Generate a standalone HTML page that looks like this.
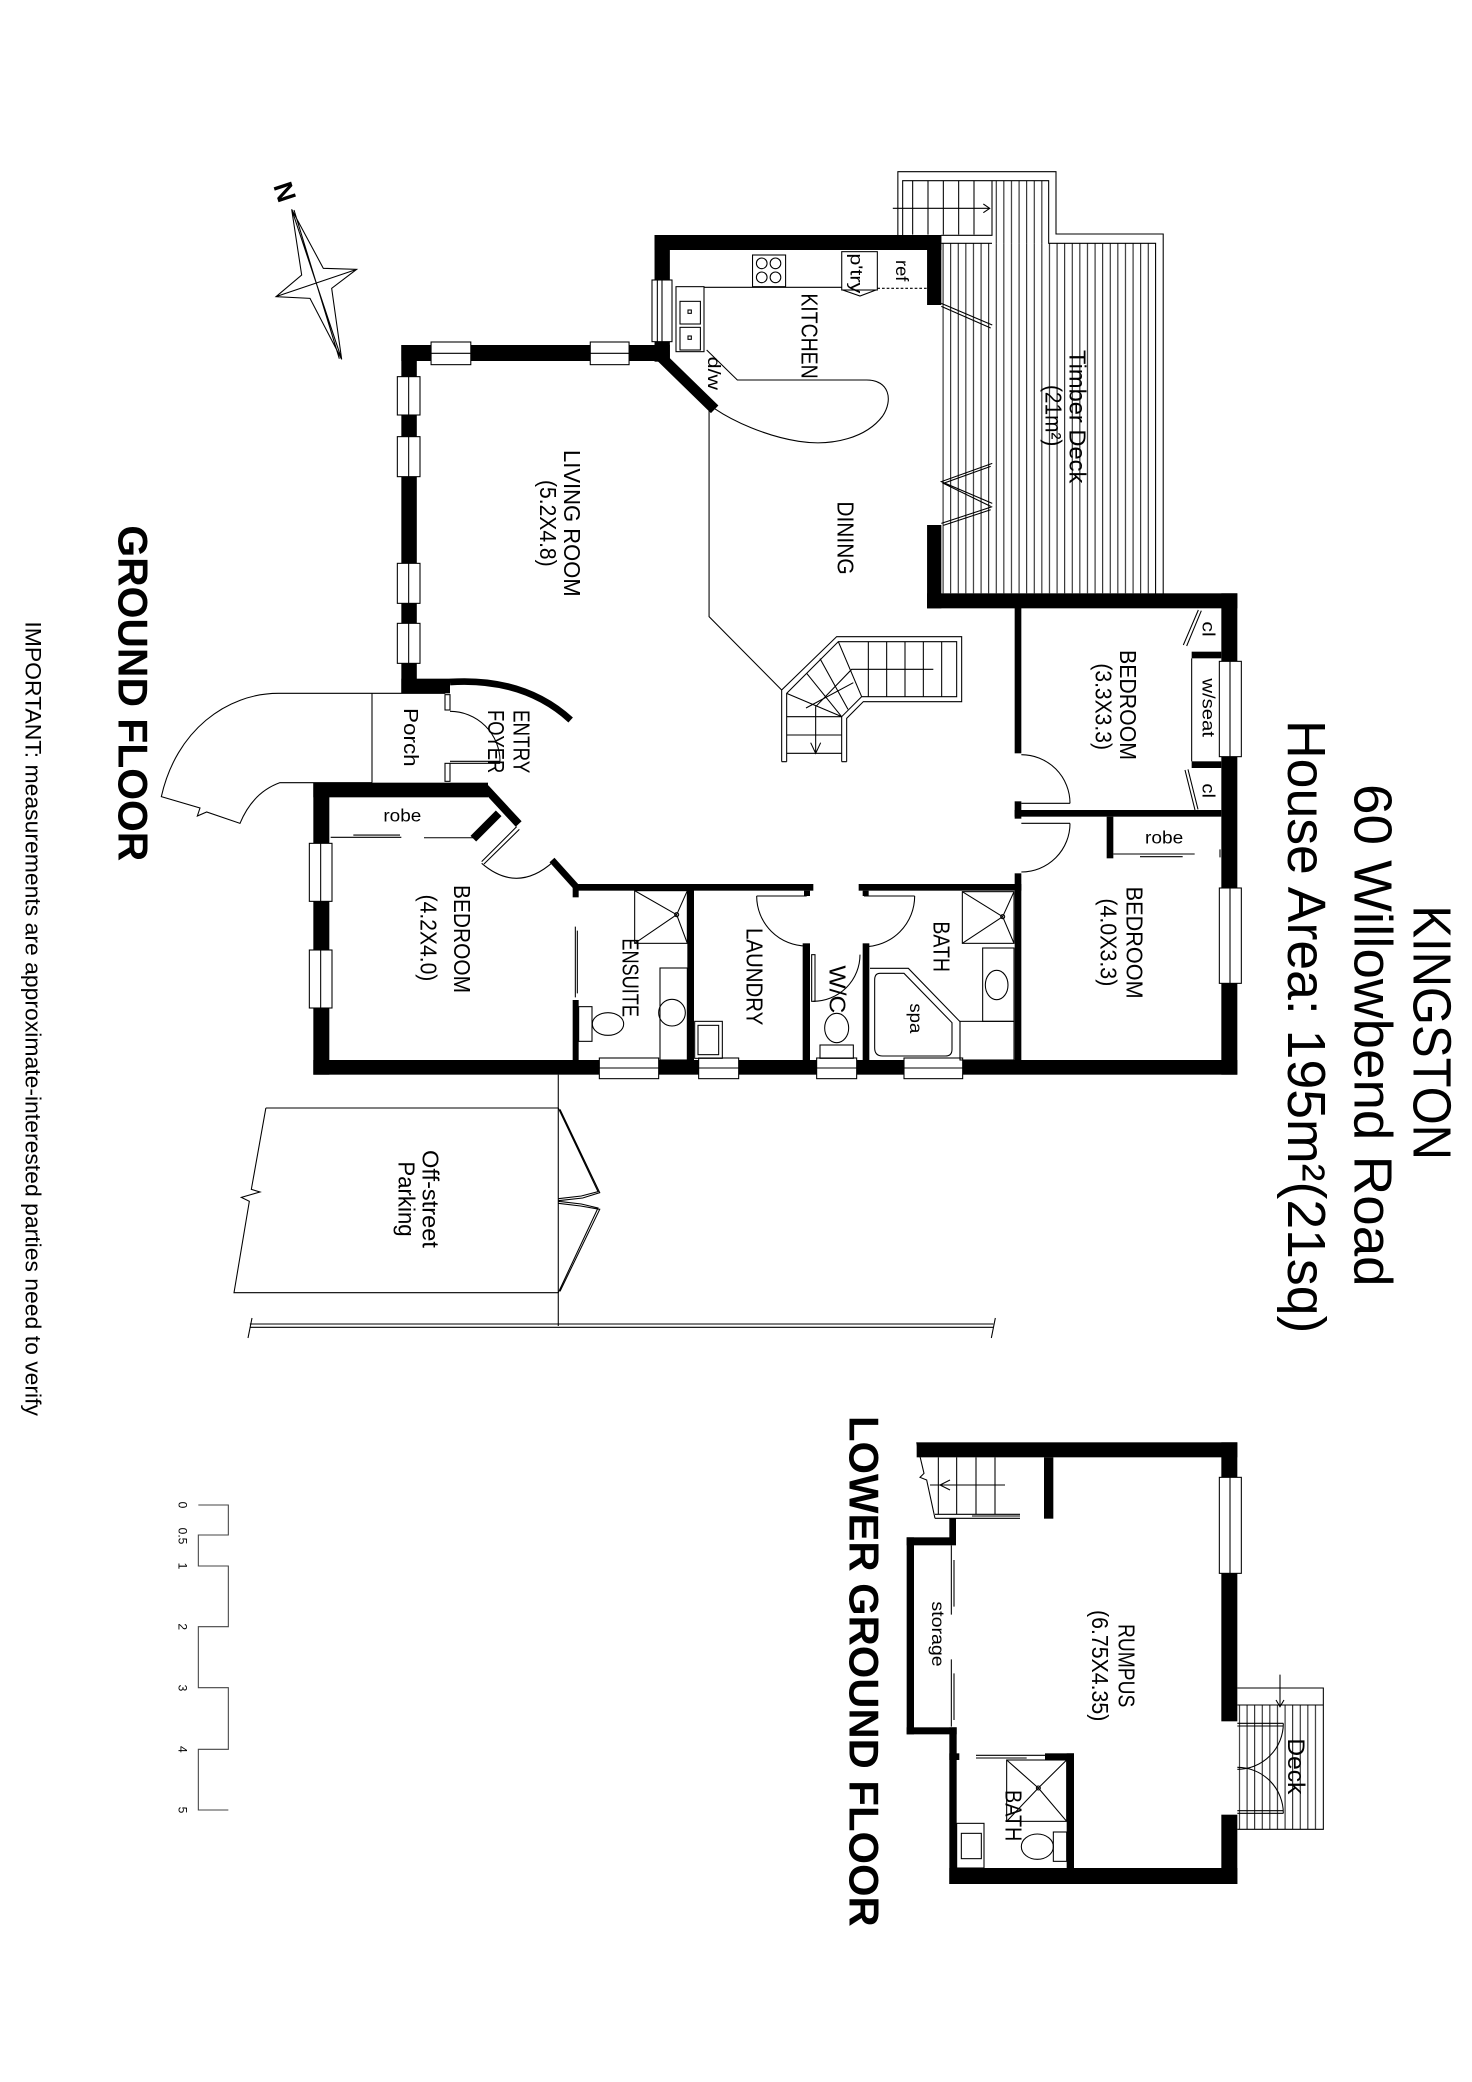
<!DOCTYPE html>
<html><head><meta charset="utf-8"><style>
html,body{margin:0;padding:0;background:#fff}
svg{display:block}
text{font-family:"Liberation Sans",sans-serif;fill:#000}
.l{fill:none;stroke:#000;stroke-width:0.8}
.w{fill:#fff;stroke:#000;stroke-width:0.8}
</style></head><body>
<svg xmlns="http://www.w3.org/2000/svg" width="1472" height="2082" viewBox="0 0 1104 1561.5" preserveAspectRatio="none">
<defs>
<pattern id="vh" patternUnits="userSpaceOnUse" width="5.7" height="20"><line x1="0.5" y1="0" x2="0.5" y2="20" stroke="#000" stroke-width="0.7"/></pattern>
</defs>
<rect x="0" y="0" width="1104" height="1561.5" fill="#fff"/>

<!-- ============ DECK (ground) ============ -->
<rect x="706" y="182.5" width="160.7" height="262.5" fill="url(#vh)"/>
<rect x="744" y="135.5" width="42.5" height="47" fill="url(#vh)"/>
<path class="l" d="M673.4,176.25 V128.75 H792 V175.5 H872.4 V446 M677,176.25 V135.5 H786.5 V182.5 H866.7 V446 M706,176.5 H744 V135.5 M706,182.5 H744"/>
<path class="l" d="M684.5,135.5 V176 M696,135.5 V176 M707.5,135.5 V176 M719,135.5 V176 M730.5,135.5 V176"/>
<path class="l" d="M669.6,156.25 H742.3 M737.5,153 L742.3,156.25 L737.5,159.5"/>
<path class="l" d="M706,227.5 L744.2,243.75 M706,229.8 L743,246 M744.2,347.5 L706,361.25 L744.2,377.5 M743,349.8 L707.5,362.5 L743,379.8 M744.2,380 L706,392.5 M743,382.3 L707.5,394"/>

<!-- ============ WALLS (ground) ============ -->
<g fill="#000">
<rect x="301" y="258.75" width="11.6" height="261.25"/>
<rect x="301" y="258.75" width="201.4" height="12"/>
<rect x="490.9" y="176.25" width="11.5" height="95"/>
<rect x="490.9" y="176.25" width="215.1" height="11.25"/>
<rect x="695.3" y="176.25" width="10.7" height="52.5"/>
<rect x="695.3" y="393.75" width="10.7" height="62.5"/>
<rect x="695.3" y="445" width="232.7" height="11.25"/>
<rect x="916" y="445" width="12" height="361"/>
<rect x="235" y="795" width="693" height="11"/>
<rect x="235" y="587" width="12" height="219"/>
<rect x="235" y="587" width="131" height="11"/>
<rect x="301" y="509" width="36.5" height="11"/>
<rect x="430" y="663" width="180" height="5"/>
<rect x="644" y="663" width="122" height="5"/>
<rect x="429.5" y="663" width="4.5" height="10"/>
<rect x="429.5" y="750" width="4.5" height="45"/>
<rect x="515.5" y="663" width="5" height="132"/>
<rect x="602" y="707.5" width="5.5" height="87.5"/>
<rect x="603" y="668" width="4.5" height="4"/>
<rect x="647" y="707.5" width="5" height="87.5"/>
<rect x="647" y="668" width="4.5" height="4"/>
<rect x="761" y="655" width="5" height="140"/>
<rect x="761" y="456" width="5" height="109"/>
<rect x="761" y="601" width="5" height="13"/>
<rect x="761" y="607.5" width="155" height="5"/>
<rect x="830" y="612.5" width="5" height="31.25"/>
<rect x="893.75" y="488.75" width="22.25" height="5"/>
<rect x="893.75" y="571" width="22.25" height="5"/>
</g>
<g stroke="#000" fill="none">
<line x1="494" y1="266" x2="536" y2="307" stroke-width="8"/>
<line x1="364" y1="591" x2="389" y2="618" stroke-width="6"/>
<line x1="355" y1="629" x2="374" y2="610" stroke-width="6"/>
<line x1="414" y1="645" x2="432" y2="665" stroke-width="5"/>
<path d="M337.5,511.5 Q393,508 428,540" stroke-width="5"/>
</g>

<!-- windows -->
<g class="w">
<rect x="298" y="282.5" width="17" height="28.75"/>
<rect x="298" y="327.5" width="17" height="30"/>
<rect x="298" y="422.5" width="17" height="30"/>
<rect x="298" y="467.5" width="17" height="30"/>
<rect x="489" y="210" width="15" height="46.25"/>
<rect x="323.3" y="256.5" width="29.8" height="17"/>
<rect x="442.7" y="256.5" width="29.1" height="17"/>
<rect x="232" y="632.5" width="17" height="43.5"/>
<rect x="232" y="712.5" width="17" height="43.5"/>
<rect x="449.5" y="793.5" width="44.5" height="15.5"/>
<rect x="524" y="793.5" width="30" height="15.5"/>
<rect x="612.5" y="793.5" width="30" height="15.5"/>
<rect x="678" y="793.5" width="44" height="15.5"/>
<rect x="914.5" y="496" width="16.5" height="71.5"/>
<rect x="914.5" y="666" width="16.5" height="71.5"/>
<rect x="333.75" y="521" width="3.75" height="11.5"/>
<rect x="333.75" y="572.5" width="3.75" height="13.5"/>
</g>
<path class="l" d="M306.5,282.5 V311.25 M306.5,327.5 V357.5 M306.5,422.5 V452.5 M306.5,467.5 V497.5 M496.5,210 V256.25 M493,210 V256.25 M323.3,265 H353.1 M442.7,265 H471.8 M240.5,632.5 V676 M240.5,712.5 V756 M449.5,801 H494 M524,801 H554 M612.5,801 H642.5 M678,801 H722 M922.5,496 V567.5 M922.5,666 V737.5"/>

<!-- kitchen fixtures -->
<path class="l" d="M528,215.5 H631.3"/>
<rect class="l" x="507" y="215" width="21" height="48.75"/>
<rect class="l" x="510" y="226" width="15.3" height="17"/>
<rect class="l" x="510" y="245.5" width="15.3" height="17"/>
<rect class="l" x="516" y="232.5" width="2.5" height="2.5"/>
<rect class="l" x="516" y="252" width="2.5" height="2.5"/>
<rect class="l" x="564.4" y="191.25" width="24.8" height="23.75"/>
<circle class="l" cx="571.3" cy="197.5" r="4"/>
<circle class="l" cx="581.6" cy="197.5" r="4"/>
<circle class="l" cx="571.3" cy="208" r="4"/>
<circle class="l" cx="581.6" cy="208" r="4"/>
<rect class="l" x="631.3" y="188.75" width="26.7" height="28.75"/>
<path class="l" d="M632,217.5 L645,222 L657,217.5"/>
<path d="M658,216.25 H695.3" stroke="#000" stroke-width="0.8" stroke-dasharray="2,1.5"/>
<path class="l" d="M530,262.5 L553,285 L650,285 C667,285 670,300 662,312 C650,328 625,335 599,331 C574,327 550,316 536,306.5"/>
<path class="l" d="M531.8,306 V462.5 L586.25,517.5"/>

<!-- stairs ground -->
<path class="l" d="M586.25,571.25 V517.5 L627.5,477.5 H721.25 V526.25 H647.5 L635,538.75 V571.25 M590,571.25 V520 L628.75,481.25 H717.5 V522.5 H646.25 L631.25,537.5 V571.25 M586.25,571.25 H590 M631.25,571.25 H635"/>
<path class="l" d="M651.25,481.25 V522.5 M665,481.25 V522.5 M678.75,481.25 V522.5 M692.5,481.25 V522.5 M706.25,481.25 V522.5 M590,537.5 H631.25 M590,551.25 H631.25 M590,565 H631.25 M628.75,481.25 L646.25,522.5 M590,520 L631.25,537.5 M605,505 L631.25,537.5 M615,494 L636,532 M604.5,531 L640,512"/>
<path class="l" d="M700,502 H638.75 L611.75,530 V565 M608,557 L611.75,565 L615.5,557"/>

<!-- porch & path -->
<path class="l" d="M279,520 L208.75,520 C170,520 132,548 121,597.5 L150,606 L148,612 L155,609 L180,617.5 C186,603 196,592 210,587 L279,587 M279,520 V587 M279,520 H334"/>
<!-- entry door -->
<path class="l" d="M337.5,571 H375 M337.5,572.5 H375 M375,571 A37.5,37.5 0 0 0 337.5,533.5"/>

<!-- bedroom 4.2 robe & door -->
<path class="l" d="M248,628 H301 M265,626.3 H300 M318,628.3 H355 M387.5,620 L361.25,646.25 M389.5,622 L363,648 M361.25,647.5 Q388,670.5 415,646.25"/>

<!-- right bedroom doors, closets, robe -->
<path class="l" d="M766,602.5 H802.5 M802.5,602.5 A36.5,36.5 0 0 0 766,566 M766,617.5 H802.5 M802.5,617.5 A36.5,36.5 0 0 1 766,654"/>
<path class="l" d="M898.75,457.5 L887.5,483.75 M901,458 L890,484.5 M888.75,577.5 L896.25,607.5 M891,577 L898.5,607 M893.75,493.75 V571 M835,640.5 H896 M855,642.5 H887 M915,637 V643"/>

<!-- wet areas -->
<path class="l" d="M605,672 H567.5 M567.5,672 A37.5,37.5 0 0 0 605,709.5 M648,672 H686 M686,672 A38,38 0 0 1 648,710 M610,751 A35,35 0 0 0 645,716 M431.5,695 V748 M433,698 V745"/>
<rect class="l" x="608.75" y="716" width="2.5" height="35"/>
<rect class="l" x="476" y="668" width="39.5" height="39.5"/>
<path class="l" d="M476,668 L507.5,686 M476,707.5 L507.5,686 M515.5,668 L507.5,686 M515.5,707.5 L507.5,686"/>
<circle class="l" cx="507.5" cy="686" r="1.5"/>
<rect class="l" x="495" y="726" width="20.5" height="69"/>
<circle class="l" cx="504" cy="759.5" r="10"/>
<rect class="l" x="434" y="755" width="10" height="26"/>
<ellipse class="l" cx="456" cy="768" rx="11.75" ry="8.5"/>
<rect class="l" x="521" y="766" width="20.75" height="27.75"/>
<rect class="l" x="523.5" y="769" width="15.5" height="22"/>
<rect class="l" x="615" y="783.75" width="25" height="10"/>
<ellipse class="l" cx="627.5" cy="771" rx="9" ry="11"/>
<rect class="l" x="721.75" y="668.75" width="38.75" height="38.75"/>
<path class="l" d="M721.75,668.75 L752,687.5 M721.75,707.5 L752,687.5 M760.5,668.75 L752,687.5 M760.5,707.5 L752,687.5"/>
<circle class="l" cx="752" cy="687.5" r="1.5"/>
<path class="l" d="M652.5,726.25 H681.25 L720,766.25 V795 M660,730 H678 L714,767 V787 Q714,792 709,792 H662 Q656,792 656,786 V735 Q656,730 660,730 Z"/>
<rect class="l" x="737" y="711" width="23.5" height="55"/>
<ellipse class="l" cx="747.5" cy="738.75" rx="8.5" ry="11"/>
<rect class="l" x="720" y="766" width="40.5" height="29"/>

<!-- parking -->
<path class="l" d="M418.7,806 V994.5 M199.4,831 H418.7 M418.7,969.5 H175.5 L187,901 L181,898 L195,894 L188.5,892 L199.4,831"/>
<path class="l" d="M418.7,831 L448.5,893.75 L436,897 L418.7,899 M420,832 L449.8,894.5 L437,898.5 L418.7,900.5 M418.7,901 L436,903 L448.5,906 L418.7,969.5 M418.7,902.5 L435.5,904.5 L449.8,907 L420,968.5"/>
<path class="l" d="M187.4,993 H745 M187.4,995.5 H745 M189,988.5 L186,1003.5 M746.5,988.5 L743.5,1003.5"/>

<!-- compass -->
<path class="l" d="M218.75,157 L242.5,201.25 L267.5,202 L248.75,216.25 L256.25,269.5 L232.5,223.75 L207,222.5 L226.25,206.25 Z M218.75,157 L256.25,269.5 M220.5,157.5 L254.5,269 M207,222.5 L267.5,202"/>
<text transform="translate(213.5,144) rotate(72)" text-anchor="middle" dominant-baseline="central" font-size="20" font-weight="bold">N</text>

<!-- scale bar -->
<path d="M148.75,1128.75 H171.25 V1151.25 H148.75 V1174.5 H171.25 V1220 H148.75 V1265.75 H171.25 V1312 H148.75 V1357.5 H171.25" fill="none" stroke="#444" stroke-width="0.8"/>
<g font-size="9" text-anchor="middle">
<text transform="translate(134,1128.75) rotate(90)">0</text>
<text transform="translate(134,1152) rotate(90)">0.5</text>
<text transform="translate(134,1174.5) rotate(90)">1</text>
<text transform="translate(134,1220) rotate(90)">2</text>
<text transform="translate(134,1266) rotate(90)">3</text>
<text transform="translate(134,1312) rotate(90)">4</text>
<text transform="translate(134,1357.5) rotate(90)">5</text>
</g>

<!-- ============ LOWER GROUND ============ -->
<rect x="929" y="1278.75" width="61" height="93.25" fill="url(#vh)"/>
<path class="l" d="M928,1266 H992.5 V1372 H928 M928,1278.75 H992.5 M960,1256 V1280 M957,1275 L960,1280 L963,1275"/>
<g fill="#000">
<rect x="687.5" y="1081.75" width="240.5" height="11.25"/>
<rect x="916" y="1081.75" width="12" height="209.25"/>
<rect x="916" y="1361" width="12" height="52"/>
<rect x="712" y="1401" width="216" height="12"/>
<rect x="712" y="1295.5" width="5.5" height="117.5"/>
<rect x="680" y="1153" width="5.5" height="147.75"/>
<rect x="680" y="1153" width="37" height="6"/>
<rect x="680" y="1295.5" width="37.5" height="5.25"/>
<rect x="712" y="1138.75" width="5" height="20"/>
<rect x="783" y="1093" width="7" height="46"/>
<rect x="783.75" y="1315" width="21.75" height="5"/>
<rect x="800" y="1315" width="5.5" height="86"/>
<rect x="712" y="1315" width="7.5" height="5"/>
</g>
<rect class="w" x="914.5" y="1108" width="16.5" height="72"/>
<path class="l" d="M922.5,1108 V1180"/>
<path class="l" d="M928,1292.5 H962.5 M928,1294.5 H962.5 M962.5,1292.5 A34.5,34.5 0 0 1 928,1327 M928,1360 H962.5 M928,1358 H962.5 M962.5,1360 A34.5,34.5 0 0 0 928,1325.5"/>
<path class="l" d="M703.75,1093 V1135.75 M717.5,1093 V1135.75 M732,1093 V1135.75 M746.25,1093 V1135.75 M697.5,1113.75 H753.75 M712.5,1110 L705,1113.75 L712.5,1117.5 M701.25,1135.75 H765 M701.25,1138.75 H765 M729,1137 H765 M687.5,1081.75 L693,1105 L690,1108 L695,1110 L701.25,1138.75"/>
<path class="l" d="M713.5,1159 V1211 M715.5,1170 V1205 M713.5,1244.5 V1295 M715.5,1255 V1290"/>
<path class="l" d="M732,1316.5 H783.75 M732,1318.5 H770"/>
<rect class="l" x="755" y="1320" width="45" height="46"/>
<path class="l" d="M755,1320 L778.75,1341 M800,1320 L778.75,1341 M755,1366 L778.75,1341 M800,1366 L778.75,1341"/>
<circle class="l" cx="778.75" cy="1341" r="1.5"/>
<rect class="l" x="790" y="1374" width="10" height="22"/>
<ellipse class="l" cx="778" cy="1385" rx="12" ry="9.5"/>
<rect class="l" x="717.5" y="1367.5" width="20.5" height="33.5"/>
<rect class="l" x="721" y="1375" width="15" height="19"/>

<!-- ============ TEXT ============ -->
<g font-size="40">
<text transform="translate(1060,679) rotate(90)" textLength="191" lengthAdjust="spacingAndGlyphs">KINGSTON</text>
<text transform="translate(1016,588) rotate(90)" textLength="377" lengthAdjust="spacingAndGlyphs">60 Willowbend Road</text>
<text transform="translate(966,540) rotate(90)" textLength="460" lengthAdjust="spacingAndGlyphs">House Area: 195m²(21sq)</text>
</g>
<g font-size="31" font-weight="bold">
<text transform="translate(89,394) rotate(90)" textLength="252" lengthAdjust="spacingAndGlyphs">GROUND FLOOR</text>
<text transform="translate(637,1062) rotate(90)" textLength="383" lengthAdjust="spacingAndGlyphs">LOWER GROUND FLOOR</text>
</g>
<text transform="translate(19,466) rotate(90)" font-size="16.5" textLength="596" lengthAdjust="spacingAndGlyphs">IMPORTANT: measurements are approximate-interested parties need to verify</text>

<g font-size="17">
<text transform="translate(601,220) rotate(90)" textLength="64" lengthAdjust="spacingAndGlyphs">KITCHEN</text>
<text transform="translate(802,262.5) rotate(90)" textLength="100" lengthAdjust="spacingAndGlyphs">Timber Deck</text>
<text transform="translate(784,288.75) rotate(90)" textLength="46" lengthAdjust="spacingAndGlyphs">(21m²)</text>
<text transform="translate(628,376) rotate(90)" textLength="55" lengthAdjust="spacingAndGlyphs">DINING</text>
<text transform="translate(423,337.5) rotate(90)" textLength="110" lengthAdjust="spacingAndGlyphs">LIVING ROOM</text>
<text transform="translate(405,360) rotate(90)" textLength="65" lengthAdjust="spacingAndGlyphs">(5.2X4.8)</text>
<text transform="translate(385,532.5) rotate(90)" textLength="47.5" lengthAdjust="spacingAndGlyphs">ENTRY</text>
<text transform="translate(366,532.5) rotate(90)" textLength="47.5" lengthAdjust="spacingAndGlyphs">FOYER</text>
<text transform="translate(340.5,663.75) rotate(90)" textLength="81" lengthAdjust="spacingAndGlyphs">BEDROOM</text>
<text transform="translate(315.5,671) rotate(90)" textLength="65" lengthAdjust="spacingAndGlyphs">(4.2X4.0)</text>
<text transform="translate(467,703.75) rotate(90)" textLength="59" lengthAdjust="spacingAndGlyphs">ENSUITE</text>
<text transform="translate(560,696) rotate(90)" textLength="73" lengthAdjust="spacingAndGlyphs">LAUNDRY</text>
<text transform="translate(622,724) rotate(90)" textLength="36" lengthAdjust="spacingAndGlyphs">W/C</text>
<text transform="translate(700,691) rotate(90)" textLength="38" lengthAdjust="spacingAndGlyphs">BATH</text>
<text transform="translate(840,487.5) rotate(90)" textLength="82.5" lengthAdjust="spacingAndGlyphs">BEDROOM</text>
<text transform="translate(821.5,497.5) rotate(90)" textLength="65" lengthAdjust="spacingAndGlyphs">(3.3X3.3)</text>
<text transform="translate(845,665) rotate(90)" textLength="84" lengthAdjust="spacingAndGlyphs">BEDROOM</text>
<text transform="translate(825.5,673.75) rotate(90)" textLength="66" lengthAdjust="spacingAndGlyphs">(4.0X3.3)</text>
<text transform="translate(317,862.5) rotate(90)" textLength="73.5" lengthAdjust="spacingAndGlyphs">Off-street</text>
<text transform="translate(299,871) rotate(90)" textLength="56.5" lengthAdjust="spacingAndGlyphs">Parking</text>
<text transform="translate(839,1218) rotate(90)" textLength="62.5" lengthAdjust="spacingAndGlyphs">RUMPUS</text>
<text transform="translate(819,1207.5) rotate(90)" textLength="83.5" lengthAdjust="spacingAndGlyphs">(6.75X4.35)</text>
<text transform="translate(754,1342.5) rotate(90)" textLength="38.5" lengthAdjust="spacingAndGlyphs">BATH</text>
<text transform="translate(966,1303.75) rotate(90)" font-size="18" textLength="42" lengthAdjust="spacingAndGlyphs">Deck</text>
<text transform="translate(303,531) rotate(90)" font-size="15" textLength="44" lengthAdjust="spacingAndGlyphs">Porch</text>
</g>
<g font-size="13">
<text transform="translate(531,267.5) rotate(90)" textLength="25" lengthAdjust="spacingAndGlyphs">d/w</text>
<text transform="translate(638,190) rotate(90)" textLength="30" lengthAdjust="spacingAndGlyphs">p'try</text>
<text transform="translate(672,195) rotate(90)" textLength="16" lengthAdjust="spacingAndGlyphs">ref</text>
<text transform="translate(682.5,752.5) rotate(90)" textLength="22.5" lengthAdjust="spacingAndGlyphs">spa</text>
<text transform="translate(902,466) rotate(90)" textLength="11.5" lengthAdjust="spacingAndGlyphs">cl</text>
<text transform="translate(902,587.5) rotate(90)" textLength="11" lengthAdjust="spacingAndGlyphs">cl</text>
<text transform="translate(902,508.75) rotate(90)" textLength="44" lengthAdjust="spacingAndGlyphs">w/seat</text>
<text transform="translate(699,1201) rotate(90)" textLength="49" lengthAdjust="spacingAndGlyphs">storage</text>
<text x="287.5" y="616" textLength="28.5" lengthAdjust="spacingAndGlyphs">robe</text>
<text x="858.75" y="632.5" textLength="28.75" lengthAdjust="spacingAndGlyphs">robe</text>
</g>
</svg>
</body></html>
